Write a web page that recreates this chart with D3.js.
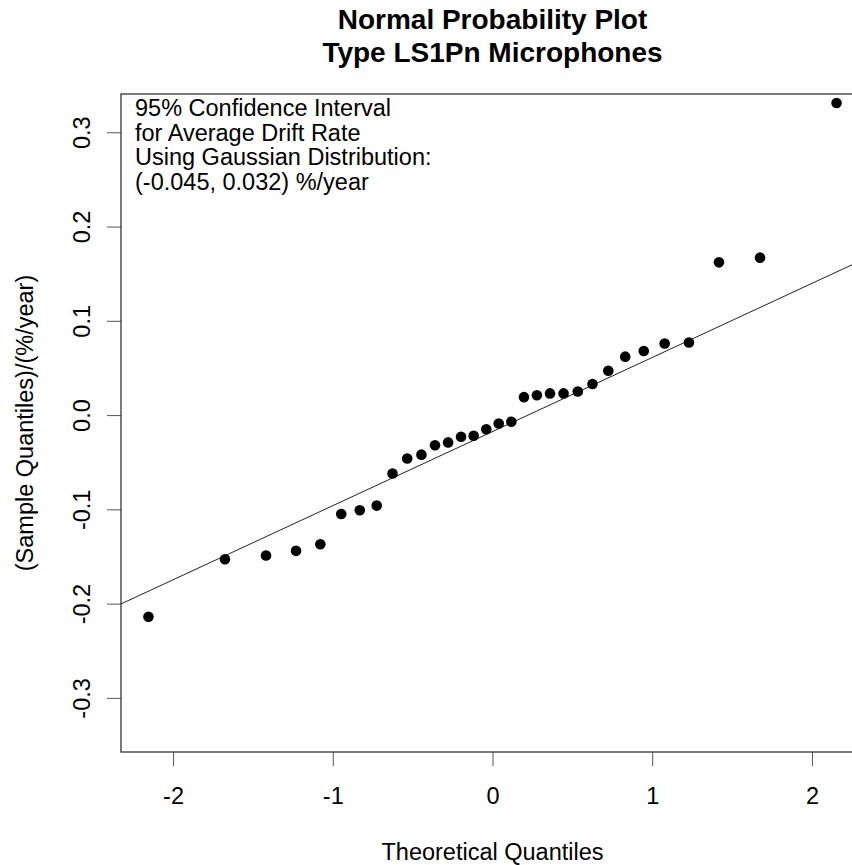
<!DOCTYPE html>
<html lang="en">
<head>
  <meta charset="UTF-8" />
  <title>Normal Probability Plot</title>
  <script src="https://d3js.org/d3.v7.min.js"></script>
  <style>
    body { margin: 0; background: #fff; font-family: "Liberation Sans", Arial, sans-serif; }
    svg { display: block; }
    .axis path { display: none; }
    .axis line { stroke: #555; stroke-width: 1px; }
    .axis text { font-family: "Liberation Sans", Arial, sans-serif; font-size: 23.5px; fill: #000; }
  </style>
</head>
<body>
<svg id="chart" width="852" height="865"></svg>

<script>
// theoretical quantiles (x) and sample quantiles (y), in %/year
const theoretical = [-2.154, -1.675, -1.418, -1.230, -1.078, -0.947, -0.831, -0.725,
  -0.626, -0.534, -0.445, -0.360, -0.278, -0.197, -0.118, -0.039,
  0.039, 0.118, 0.197, 0.278, 0.360, 0.445, 0.534, 0.626,
  0.725, 0.831, 0.947, 1.078, 1.230, 1.418, 1.675, 2.154];
const sample = [-0.214, -0.153, -0.149, -0.144, -0.137, -0.105, -0.101, -0.096,
  -0.062, -0.046, -0.042, -0.032, -0.029, -0.023, -0.022, -0.015,
  -0.009, -0.007, 0.019, 0.021, 0.023, 0.023, 0.025, 0.033,
  0.047, 0.062, 0.068, 0.076, 0.077, 0.162, 0.167, 0.331];

// reference line (qqline)
const lineIntercept = -0.0175;
const lineSlope = 0.0786;

const xTicks = [-2, -1, 0, 1, 2];
const yTicks = [-0.3, -0.2, -0.1, 0.0, 0.1, 0.2, 0.3];

const titleLines = ["Normal Probability Plot", "Type LS1Pn Microphones"];
const noteLines = [
  "95% Confidence Interval",
  "for Average Drift Rate",
  "Using Gaussian Distribution:",
  "(-0.045, 0.032) %/year"
];
const xLabel = "Theoretical Quantiles";
const yLabel = "(Sample Quantiles)/(%/year)";

const svg = d3.select("#chart");

// plain hyphen for negatives, like R
const fmt = d3.formatLocale({ decimal: ".", thousands: ",", grouping: [3], currency: ["", ""], minus: "-" });

// plot region (right edge falls outside the picture)
const plot = { left: 121, right: 864, top: 94, bottom: 752 };
const xDomain = [-2.326, 2.326];
const yDomain = [-0.3574, 0.3406];

const x = d3.scaleLinear().domain(xDomain).range([plot.left, plot.right]);
const y = d3.scaleLinear().domain(yDomain).range([plot.bottom, plot.top]);

svg.append("clipPath").attr("id", "plotClip")
  .append("rect")
  .attr("x", plot.left).attr("y", plot.top)
  .attr("width", plot.right - plot.left).attr("height", plot.bottom - plot.top);

// title
svg.append("g").selectAll("text")
  .data(titleLines)
  .enter().append("text")
  .attr("x", (plot.left + plot.right) / 2)
  .attr("y", (d, i) => 29 + i * 33)
  .attr("text-anchor", "middle")
  .style("font-size", "28px")
  .style("font-weight", "bold")
  .text(d => d);

// axes
svg.append("g")
  .attr("class", "axis")
  .attr("transform", `translate(0,${plot.bottom})`)
  .call(d3.axisBottom(x).tickValues(xTicks).tickSize(14).tickPadding(21).tickFormat(fmt.format("d")));

const yAxis = svg.append("g")
  .attr("class", "axis")
  .attr("transform", `translate(${plot.left},0)`)
  .call(d3.axisLeft(y).tickValues(yTicks).tickSize(14).tickFormat(fmt.format(".1f")));

yAxis.selectAll(".tick text")
  .attr("x", null).attr("dy", null)
  .attr("text-anchor", "middle")
  .attr("transform", "translate(-31.5,0) rotate(-90)");

// box (left, top, bottom)
svg.append("rect")
  .attr("x", plot.left).attr("y", plot.top)
  .attr("width", plot.right - plot.left).attr("height", plot.bottom - plot.top)
  .attr("fill", "none")
  .attr("stroke", "#333")
  .attr("stroke-width", 1.3);

const body = svg.append("g").attr("clip-path", "url(#plotClip)");

// qq line
body.append("line")
  .attr("x1", x(xDomain[0])).attr("y1", y(lineIntercept + lineSlope * xDomain[0]))
  .attr("x2", x(xDomain[1])).attr("y2", y(lineIntercept + lineSlope * xDomain[1]))
  .attr("stroke", "#222")
  .attr("stroke-width", 1);

// points
body.selectAll("circle")
  .data(theoretical.map((t, i) => ({ t, s: sample[i] })))
  .enter().append("circle")
  .attr("cx", d => x(d.t))
  .attr("cy", d => y(d.s))
  .attr("r", 5.3)
  .attr("fill", "#000");

// annotation
svg.append("g").selectAll("text")
  .data(noteLines)
  .enter().append("text")
  .attr("x", 135)
  .attr("y", (d, i) => 116 + i * 24.6)
  .style("font-size", "23.5px")
  .text(d => d);

// axis labels
svg.append("text")
  .attr("x", (plot.left + plot.right) / 2)
  .attr("y", 860)
  .attr("text-anchor", "middle")
  .style("font-size", "23.5px")
  .text(xLabel);

svg.append("text")
  .attr("transform", `translate(33,${(plot.top + plot.bottom) / 2}) rotate(-90)`)
  .attr("text-anchor", "middle")
  .style("font-size", "23.5px")
  .text(yLabel);
</script>
</body>
</html>
